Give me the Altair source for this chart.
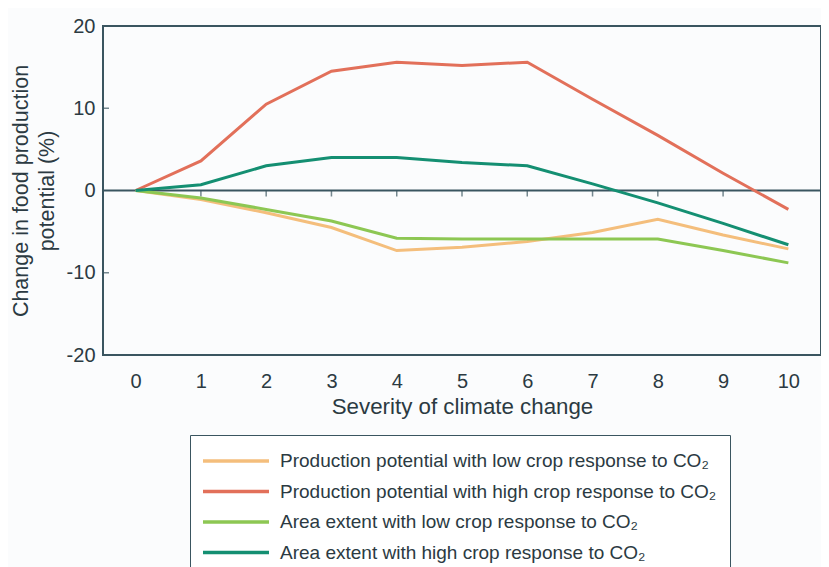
import altair as alt
import pandas as pd

severity = [0, 1, 2, 3, 4, 5, 6, 7, 8, 9, 10]
prod_low = [0, -1.1, -2.7, -4.5, -7.3, -6.9, -6.2, -5.1, -3.5, -5.4, -7.1]
prod_high = [0, 3.6, 10.5, 14.5, 15.6, 15.2, 15.6, 11.1, 6.7, 2.1, -2.3]
area_low = [0, -0.9, -2.3, -3.7, -5.8, -5.9, -5.9, -5.9, -5.9, -7.3, -8.8]
area_high = [0, 0.7, 3.0, 4.0, 4.0, 3.4, 3.0, 0.8, -1.5, -4.0, -6.6]

series_names = [
    "Production potential with low crop response to CO\u2082",
    "Production potential with high crop response to CO\u2082",
    "Area extent with low crop response to CO\u2082",
    "Area extent with high crop response to CO\u2082",
]
series_colors = ["#F4BE7C", "#E2705A", "#8DC753", "#148F72"]
x_ticks = [1, 2, 3, 4, 5, 6, 7, 8, 9]
y_inner_ticks = [-10, 10]

rows = []
for name, vals in zip(series_names, [prod_low, prod_high, area_low, area_high]):
    for s, v in zip(severity, vals):
        rows.append({"severity": s, "value": v, "series": name})
df = pd.DataFrame(rows)

FONT = "Liberation Sans"
TXT = "#2b3a42"
FRAME = "#3a5560"

xscale = alt.Scale(domain=[-0.5, 10.5], nice=False, zero=False)
yscale = alt.Scale(domain=[-20, 20], nice=False)

lines = alt.Chart(df).mark_line(strokeWidth=3).encode(
    x=alt.X("severity:Q", scale=xscale,
            axis=alt.Axis(values=severity, title="Severity of climate change", ticks=False,
                          labelExpr="datum.value + ''",
                          domain=False, grid=False, labelPadding=16, labelFontSize=20,
                          titleFontSize=22.3, titlePadding=4, labelColor=TXT, titleColor=TXT,
                          titleFontWeight="normal", labelFont=FONT, titleFont=FONT)),
    y=alt.Y("value:Q", scale=yscale,
            axis=alt.Axis(values=[-20, -10, 0, 10, 20], title=["Change in food production", "potential (%)"],
                          labelExpr="datum.value + ''",
                          ticks=False, domain=False, grid=False, labelPadding=8, labelFontSize=20,
                          titleFontSize=21.5, titlePadding=8, titleLineHeight=25.5,
                          labelColor=TXT, titleColor=TXT,
                          titleFontWeight="normal", labelFont=FONT, titleFont=FONT)),
    color=alt.Color("series:N", sort=series_names,
                    scale=alt.Scale(domain=series_names, range=series_colors),
                    legend=alt.Legend(title=None, orient="none", legendX=87, legendY=409,
                                      symbolType="M-3,0H3", symbolStrokeWidth=3.5, symbolSize=484,
                                      symbolOffset=20, labelOffset=31,
                                      labelFontSize=19, labelFont=FONT, labelColor=TXT,
                                      strokeColor=FRAME, padding=13, rowPadding=7.5,
                                      labelLimit=600, fillColor="#ffffff")),
    order="severity:Q",
    detail="series:N",
)

zero_df = pd.DataFrame({"y": [0]})
zero_rule = alt.Chart(zero_df).mark_rule(color=FRAME, strokeWidth=2).encode(y=alt.Y("y:Q", scale=yscale))

xt_df = pd.DataFrame({"x": x_ticks, "y": [0] * len(x_ticks)})
x_tick_marks = alt.Chart(xt_df).mark_tick(orient="vertical", size=6, thickness=1.5, color=FRAME, yOffset=3).encode(
    x=alt.X("x:Q", scale=xscale), y=alt.Y("y:Q", scale=yscale))

yt_df = pd.DataFrame({"y": y_inner_ticks})
y_tick_marks = alt.Chart(yt_df).mark_tick(orient="horizontal", size=6, thickness=1.5, color=FRAME).encode(
    x=alt.value(3), y=alt.Y("y:Q", scale=yscale))

chart = alt.layer(zero_rule, x_tick_marks, y_tick_marks, lines).properties(
    width=718, height=329,
    autosize=alt.AutoSizeParams(type="none"),
    padding={"left": 95, "top": 18, "right": 0, "bottom": 240},
    background="#fbfcfd",
).configure_view(stroke=FRAME, strokeWidth=2, fill="#fbfcfd")

chart.save("out.html", embed_options={"renderer": "svg", "actions": False})
